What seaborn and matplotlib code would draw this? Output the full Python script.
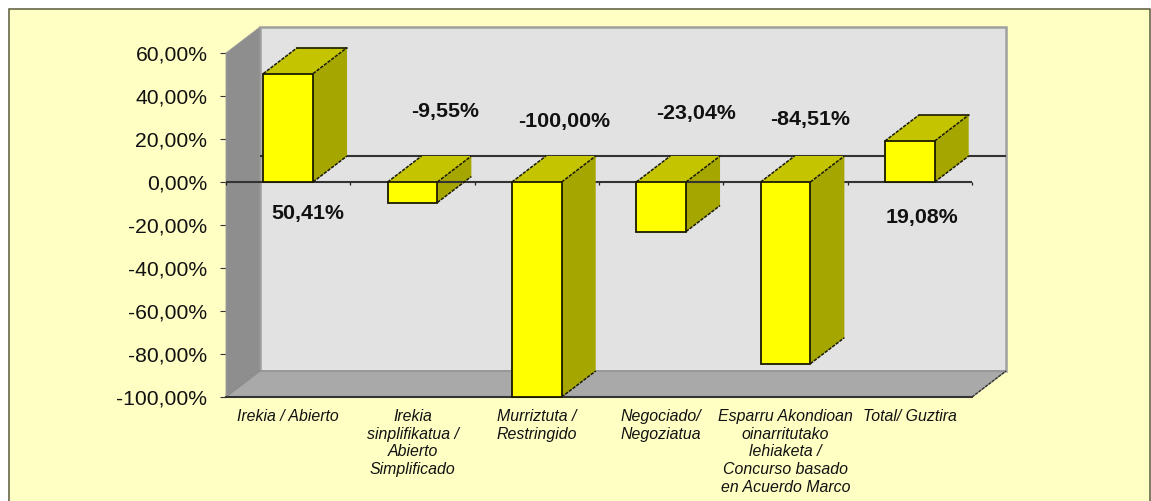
import matplotlib
matplotlib.use("Agg")
import matplotlib.pyplot as plt
from matplotlib.patches import Rectangle
import pandas as pd
import seaborn as sns

categories = [
    "Irekia / Abierto",
    "Irekia\nsinplifikatua /\nAbierto\nSimplificado",
    "Murriztuta /\nRestringido",
    "Negociado/\nNegoziatua",
    "Esparru Akondioan\noinarritutako\nlehiaketa /\nConcurso basado\nen Acuerdo Marco",
    "Total/ Guztira",
]
values = [50.41, -9.55, -100.00, -23.04, -84.51, 19.08]
y_ticks = [60, 40, 20, 0, -20, -40, -60, -80, -100]

# placement of the value labels, in picture pixels (label centre)
label_px_x = [308, 445, 564, 696, 810, 922]
label_px_y = [213, 111, 122, 114, 120, 218]

W, H = 1151, 501
FRONT = "#ffff00"
TOP = "#c4c400"
SIDE = "#a6a600"
EDGE = "#1a1a00"
DASH = (0, (2.2, 0.8))

sns.set_theme(style="white")
plt.rcParams["font.family"] = ["Liberation Sans", "DejaVu Sans"]

fig = plt.figure(figsize=(W / 100, H / 100), dpi=100, facecolor="white")
fig.add_artist(Rectangle((8.5 / W, -0.05), (1150 - 8.5) / W, 1.05 - 9 / H,
                         transform=fig.transFigure, facecolor="#ffffc4",
                         edgecolor="#5a5a3c", linewidth=1.1, zorder=-5))

ax = fig.add_axes([226 / W, 1 - 397 / H, (972 - 226) / W, (397 - 53) / H])
ax.patch.set_visible(False)

df = pd.DataFrame({"cat": categories, "val": values})
sns.barplot(data=df, x="cat", y="val", color=FRONT, saturation=1, width=0.4,
            errorbar=None, ax=ax, edgecolor=EDGE, linewidth=1.3, zorder=6)
bars = list(ax.patches)

ax.set_xlim(-0.5, 5.5)
ax.set_ylim(min(y_ticks), max(y_ticks))
ax.set_xlabel("")
ax.set_ylabel("")

# 3-D depth expressed in data units
x_per_px = 6 / (972 - 226)
y_per_px = 160 / (397 - 53)
DX, DY = 34 * x_per_px, 26 * y_per_px
x0, x1 = ax.get_xlim()
y0, y1 = ax.get_ylim()

ax.fill([x0 + DX, x1 + DX, x1 + DX, x0 + DX], [y0 + DY, y0 + DY, y1 + DY, y1 + DY],
        facecolor="#e2e2e2", edgecolor="#a0a0a0", linewidth=1.8, clip_on=False, zorder=1)
ax.fill([x0, x0 + DX, x0 + DX, x0], [y1, y1 + DY, y0 + DY, y0],
        facecolor="#8e8e8e", edgecolor="#9a9a9a", linewidth=0.6, clip_on=False, zorder=1.1)
ax.fill([x0, x0 + DX, x1 + DX, x1], [y0, y0 + DY, y0 + DY, y0],
        facecolor="#a9a9a9", edgecolor="#8a8a8a", linewidth=0.8, clip_on=False, zorder=1.2)
ax.plot([x1, x1 + DX], [y0, y0 + DY], color="#333333", lw=1.0, ls=DASH, clip_on=False, zorder=1.3)

# zero line on the back wall, and on the front plane with its ticks
ax.plot([x0 + DX, x1 + DX], [DY, DY], color="#333333", lw=1.5, clip_on=False, zorder=2,
        solid_capstyle="butt")
ax.plot([x0, x1], [0, 0], color="#333333", lw=1.5, clip_on=False, zorder=3,
        solid_capstyle="butt")
ax.vlines([i - 0.5 for i in range(len(categories) + 1)], 0, -3 * y_per_px,
          color="#222222", lw=0.9, clip_on=False, zorder=3)

# top and side faces of every bar, derived from the drawn bars
for k, (bar, v) in enumerate(zip(bars, values)):
    left, w = bar.get_x(), bar.get_width()
    right = left + w
    hi = max(bar.get_height() + bar.get_y(), bar.get_y())
    lo = min(bar.get_height() + bar.get_y(), bar.get_y())
    z = 4 + k * 0.01
    # the zero line shows across the side of the short negative bars
    side_z = 2.5 if -50 < v < 0 else z
    ax.fill([right, right + DX, right + DX, right], [lo, lo + DY, hi + DY, hi],
            facecolor=SIDE, edgecolor="none", clip_on=False, zorder=side_z)
    ax.fill([left, left + DX, right + DX, right], [hi, hi + DY, hi + DY, hi],
            facecolor=TOP, edgecolor="none", clip_on=False, zorder=z)
    style = dict(color=EDGE, lw=1.1, ls=DASH, clip_on=False, zorder=z + 0.005)
    ax.plot([left, left + DX], [hi, hi + DY], **style)
    ax.plot([right, right + DX], [hi, hi + DY], **style)
    ax.plot([right, right + DX], [lo, lo + DY], **style)
    if v > 0:
        ax.plot([left + DX, right + DX], [hi + DY, hi + DY], color=EDGE, lw=1.2,
                clip_on=False, zorder=z + 0.005)
    bar.set_clip_on(False)

# axes furniture
for s in ["top", "right", "left"]:
    ax.spines[s].set_visible(False)
ax.spines["bottom"].set_color("#333333")
ax.spines["bottom"].set_linewidth(1.5)
ax.spines["bottom"].set_zorder(5)

ax.set_yticks(y_ticks)
ax.set_yticklabels([f"{t},00%" for t in y_ticks], fontsize=15.2, color="#111111")
ax.tick_params(axis="y", left=True, length=4.4, width=0.8, color="#333333", pad=9)

ax.set_xticks(range(len(categories)))
ax.set_xticklabels(categories, fontsize=11.4, style="italic", color="#111111",
                   linespacing=1.23, va="top")
ax.tick_params(axis="x", bottom=False, length=0, pad=8.5)

for v, px, py in zip(values, label_px_x, label_px_y):
    txt = f"{v:.2f}".replace(".", ",") + "%"
    fig.text(px / W, 1 - py / H, txt, ha="center", va="center", fontsize=15.4,
             fontweight="bold", color="#111111", zorder=20)

fig.savefig("out.png", dpi=100, facecolor=fig.get_facecolor())
